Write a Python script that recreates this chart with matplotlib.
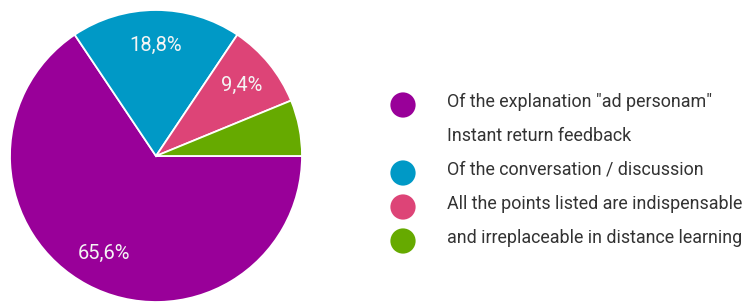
import matplotlib.pyplot as plt

plt.rcParams['font.family'] = ['Roboto', 'DejaVu Sans']

# answer shares (%), in drawing order (clockwise from 3 o'clock)
shares = [65.6, 18.8, 9.4, 6.2]
colors = ['#990099', '#0099c6', '#dd4477', '#66aa00']

# legend as it appears: text lines, and which line each colour dot sits on
legend_lines = [
    'Of the explanation "ad personam"',
    'Instant return feedback',
    'Of the conversation / discussion',
    'All the points listed are indispensable',
    'and irreplaceable in distance learning',
]
dot_rows = [0, 2, 3, 4]

W, H = 750, 307
fig = plt.figure(figsize=(W / 100, H / 100), dpi=100)

# pie axes in pixel terms: centre ~(156,156), radius ~146
cx, cy, r = 156, 156, 146
ax = fig.add_axes([(cx - r) / W, (H - cy - r) / H, 2 * r / W, 2 * r / H])


def pct_label(p):
    return f'{p:.1f}%'.replace('.', ',') if p > 7 else ''


wedges, texts, autotexts = ax.pie(
    shares, colors=colors, startangle=0, counterclock=False,
    autopct=pct_label, pctdistance=0.76, radius=1,
    wedgeprops=dict(edgecolor='white', linewidth=1.3),
    textprops=dict(color='#f4f4f4', fontsize=14.5))
ax.set_xlim(-1, 1)
ax.set_ylim(-1, 1)
ax.set_aspect('auto')
ax.axis('off')

# legend drawn in pixel coords
lg = fig.add_axes([0, 0, 1, 1])
lg.set_xlim(0, W)
lg.set_ylim(H, 0)
lg.axis('off')
row_y = [102 + 34 * i for i in range(len(legend_lines))]
for i, line in enumerate(legend_lines):
    lg.text(447, row_y[i], line, fontsize=12.9, color='#333333',
            va='center', ha='left')
for row, c in zip(dot_rows, colors):
    lg.scatter([403], [row_y[row] + 3], s=330, color=c, edgecolors='none')

fig.savefig('out.png', dpi=100)
